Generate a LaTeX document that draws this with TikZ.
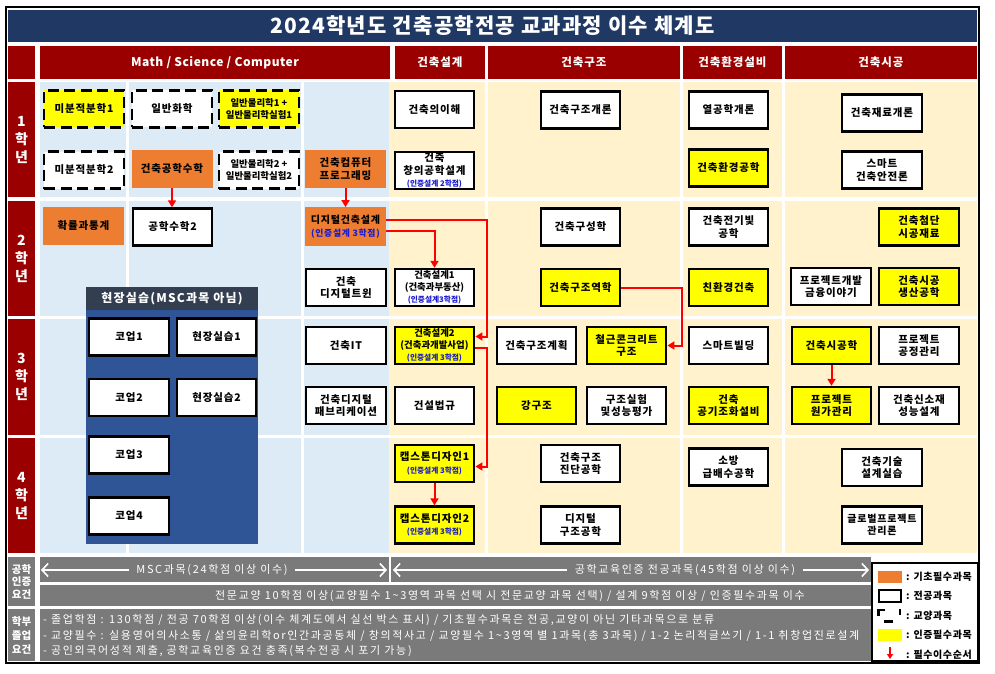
\documentclass[tikz,border=0pt]{standalone}
\usepackage{fontspec}
\setmainfont{Noto Sans CJK KR}
\newfontfamily\krbox{Noto Sans CJK KR}[LetterSpace=8]
\newfontfamily\krwide{Noto Sans CJK KR}[LetterSpace=15]
\newfontfamily\krmid{Noto Sans CJK KR}[LetterSpace=6]
\newfontfamily\krlat{Noto Sans CJK KR}[LetterSpace=4]
\newfontfamily\krpan{Noto Sans CJK KR}[LetterSpace=10]
\usetikzlibrary{arrows.meta,calc}
\definecolor{navy}{HTML}{203864}
\definecolor{dred}{HTML}{9A0000}
\definecolor{lblue}{HTML}{DDEBF7}
\definecolor{beige}{HTML}{FFF2CC}
\definecolor{orng}{HTML}{ED7D31}
\definecolor{panelblue}{HTML}{2F5597}
\definecolor{panelhead}{HTML}{333F50}
\definecolor{greyA}{HTML}{7A7A7A}
\definecolor{ylw}{HTML}{FFFF00}
\definecolor{reda}{HTML}{FF0000}
\definecolor{blu}{HTML}{1A1AD0}
\newcommand\fsz[2]{\fontsize{#1}{#2}\selectfont}
\newcommand\cnote[1]{{\krmain\fsz{7.7}{9}\color{blu}#1}}
\newcommand\krmain{\fontspec{Noto Sans CJK KR}}
\tikzset{
  box/.style={rectangle, minimum width=79.5pt, minimum height=37pt, inner sep=1pt,
    align=center, text=black, font=\krbox\bfseries\fsz{10.5}{12.5}},
  major/.style={box, draw=black, line width=2.4pt, fill=white},
  req/.style={major, fill=ylw},
  ge/.style={box, draw=black, line width=2.4pt, dash pattern=on 11pt off 5.5pt, fill=white},
  geq/.style={ge, fill=ylw},
  basic/.style={box, fill=orng, draw=none, minimum width=81pt, minimum height=38.5pt},
  smalltxt/.style={font=\bfseries\fsz{9.4}{12}},
  narrow/.style={font=\krbox\bfseries\fsz{10}{12.5}},
  flow/.style={draw=reda, line width=2pt, -{Triangle[length=7pt,width=8pt]}},
  warrow/.style={draw=white, line width=1.6pt, -{Straight Barb[length=6pt,width=13pt]}},
  hdr/.style={text=white, font=\krbox\bfseries\fsz{11.5}{13}},
  yr/.style={text=white, align=center, font=\bfseries\fsz{14}{18}},
  btxt/.style={text=white, font=\krwide\fsz{11}{13}, inner sep=0pt},
  legt/.style={anchor=west, text=black, font=\krmid\bfseries\fsz{10}{11}, inner sep=0pt},
}
\begin{document}
\begin{tikzpicture}[x=1pt,y=-1pt]
\useasboundingbox (0,0) rectangle (995,674);
\fill[white] (0,0) rectangle (995,674);
% title
\fill[navy] (8,10) rectangle (977,42);
\node[text=white, font=\krmid\bfseries\fsz{21}{24}] (title) at (492.5,26) {2024학년도 건축공학전공 교과과정 이수 체계도};
% header row
\fill[dred] (8,46) rectangle (35,79);
\fill[dred] (40,46) rectangle (390,79);
\fill[dred] (395,46) rectangle (485,79);
\fill[dred] (488,46) rectangle (680,79);
\fill[dred] (683,46) rectangle (782,79);
\fill[dred] (785,46) rectangle (977,79);
\node[hdr, font=\krlat\bfseries\fsz{12}{13}] (h1) at (215,62.5) {Math / Science / Computer};
\node[hdr] (h2) at (440,62.5) {건축설계};
\node[hdr] (h3) at (584,62.5) {건축구조};
\node[hdr] (h4) at (732.5,62.5) {건축환경설비};
\node[hdr] (h5) at (881,62.5) {건축시공};
% year rows
\foreach \a/\b in {82/197,201/316,319/435,438/553}{
  \fill[dred] (8,\a) rectangle (35,\b);
  \fill[lblue] (40,\a) rectangle (126,\b);
  \fill[lblue] (129,\a) rectangle (301,\b);
  \fill[lblue] (304,\a) rectangle (389,\b);
  \fill[beige] (389,\a) rectangle (485,\b);
  \fill[beige] (488,\a) rectangle (680,\b);
  \fill[beige] (683,\a) rectangle (782,\b);
  \fill[beige] (785,\a) rectangle (977,\b);
}
\node[yr] (y1) at (21.5,139.5) {1\\학\\년};
\node[yr] (y2) at (21.5,258.5) {2\\학\\년};
\node[yr] (y3) at (21.5,377) {3\\학\\년};
\node[yr] (y4) at (21.5,495.5) {4\\학\\년};
% field practice panel
\fill[panelblue] (86,287) rectangle (258,544);
\fill[panelhead] (86,287) rectangle (258,310);
\node[text=white, font=\krpan\bfseries\fsz{12}{13}] (paneltitle) at (172,298.5) {현장실습(MSC과목 아님)};
\node[major] (coop1) at (129,337) {코업1};
\node[major] (field1) at (216.5,337) {현장실습1};
\node[major] (coop2) at (129,397.5) {코업2};
\node[major] (field2) at (216.5,397.5) {현장실습2};
\node[major] (coop3) at (129,455) {코업3};
\node[major] (coop4) at (129,516) {코업4};
% row 1
\node[geq] (calc1) at (84,109) {미분적분학1};
\node[ge] (chem) at (172,109) {일반화학};
\node[geq, smalltxt] (phys1) at (259,109) {일반물리학1 +\\일반물리학실험1};
\node[ge] (calc2) at (84,170) {미분적분학2};
\node[basic] (engmath) at (172,169) {건축공학수학};
\node[ge, smalltxt] (phys2) at (259,170) {일반물리학2 +\\일반물리학실험2};
\node[basic] (comp) at (345.5,169) {건축컴퓨터\\프로그래밍};
\node[major] (archintro) at (434.5,109.5) {건축의이해};
\node[major] (creative) at (434.5,170.5) {건축\\창의공학설계\\\cnote{(인증설계 2학점)}};
\node[major] (structintro) at (580.5,110) {건축구조개론};
\node[major] (thermo) at (728.5,110) {열공학개론};
\node[req] (envEng) at (728.5,168) {건축환경공학};
\node[major] (material) at (882,113) {건축재료개론};
\node[major] (safety) at (882,170) {스마트\\건축안전론};
% row 2
\node[basic] (prob) at (83.5,226) {확률과통계};
\node[major] (engmath2) at (172.5,227) {공학수학2};
\node[basic, narrow] (digdesign) at (345.5,226.5) {디지털건축설계\\{\fsz{8.8}{9}\color{blu}(인증설계 3학점)}};
\node[major] (twin) at (346,287.5) {건축\\디지털트윈};
\node[major, smalltxt] (design1) at (434.5,287.5) {건축설계1\\(건축과부동산)\\\cnote{(인증설계3학점)}};
\node[major] (composition) at (580.5,227) {건축구성학};
\node[req] (mechanics) at (580.5,287.5) {건축구조역학};
\node[major] (elec) at (728.5,227) {건축전기빛\\공학};
\node[req] (eco) at (728.5,287.5) {친환경건축};
\node[req] (advmat) at (919,227) {건축첨단\\시공재료};
\node[major] (finance) at (831,286.5) {프로젝트개발\\금융이야기};
\node[req] (production) at (919,286.5) {건축시공\\생산공학};
% row 3
\node[major] (it) at (346,345.5) {건축IT};
\node[req, smalltxt] (design2) at (434.5,345.5) {건축설계2\\(건축과개발사업)\\\cnote{(인증설계 3학점)}};
\node[major] (fab) at (346,405.5) {건축디지털\\패브리케이션};
\node[major] (law) at (434.5,405.5) {건설법규};
\node[major] (structplan) at (536.5,345.5) {건축구조계획};
\node[req] (rc) at (626.5,345.5) {철근콘크리트\\구조};
\node[req] (steel) at (536.5,405.5) {강구조};
\node[major] (experiment) at (626.5,405.5) {구조실험\\및성능평가};
\node[major] (smart) at (728.5,345.5) {스마트빌딩};
\node[req] (hvac) at (728.5,405.5) {건축\\공기조화설비};
\node[req] (construction) at (831.5,345.5) {건축시공학};
\node[major] (schedule) at (919,345.5) {프로젝트\\공정관리};
\node[req] (cost) at (831.5,405.5) {프로젝트\\원가관리};
\node[major] (newmat) at (919,405.5) {건축신소재\\성능설계};
% row 4
\node[req] (cap1) at (434.5,463.5) {캡스톤디자인1\\\cnote{(인증설계 3학점)}};
\node[req] (cap2) at (434.5,525) {캡스톤디자인2\\\cnote{(인증설계 3학점)}};
\node[major] (diagnosis) at (580.5,463.5) {건축구조\\진단공학};
\node[major] (digstruct) at (580.5,525) {디지털\\구조공학};
\node[major] (fire) at (728.5,467) {소방\\급배수공학};
\node[major] (techdesign) at (882,467.5) {건축기술\\설계실습};
\node[major, narrow] (global) at (882,525) {글로벌프로젝트\\관리론};
% required sequence arrows
\draw[flow] (engmath.south) -- (engmath.south |- engmath2.north);
\draw[flow] (comp.south) -- (comp.south |- digdesign.north);
\draw[flow] ($(digdesign.east)+(0,-7)$) -| ($(design2.east)+(12,-9)$) -- ($(design2.east)+(0,-9)$);
\draw[flow] ($(digdesign.east)+(0,4)$) -| (design1.north);
\draw[flow] ($(design2.east)+(0,2)$) -- ++(12,0) |- ($(cap1.east)+(0,3)$);
\draw[flow] (cap1.south) -- (cap2.north);
\draw[flow] (mechanics.east) -| ($(rc.east)+(14.5,0)$) -- (rc.east);
\draw[flow] (construction.south) -- (cost.north);
% bottom section
\fill[greyA] (8,557) rectangle (35,606);
\fill[greyA] (8,609) rectangle (35,661);
\fill[greyA] (40,557) rectangle (389,582);
\fill[greyA] (391,557) rectangle (871,582);
\fill[greyA] (40,585) rectangle (871,606);
\fill[greyA] (40,609) rectangle (871,661);
\node[text=white, align=center, font=\bfseries\fsz{10.5}{12.5}] (lab1) at (21.5,581.5) {공학\\인증\\요건};
\node[text=white, align=center, font=\bfseries\fsz{10.5}{14}] (lab2) at (21.5,635) {학부\\졸업\\요건};
\node[btxt, inner xsep=7pt] (msc) at (212,570) {MSC과목(24학점 이상 이수)};
\coordinate (mscL) at (41,570);
\coordinate (mscR) at (387,570);
\draw[warrow] (msc.west) -- (mscL);
\draw[warrow] (msc.east) -- (mscR);
\node[btxt, inner xsep=8pt] (majorreq) at (685,570) {공학교육인증 전공과목(45학점 이상 이수)};
\coordinate (majL) at (393,570);
\coordinate (majR) at (869,570);
\draw[warrow] (majorreq.west) -- (majL);
\draw[warrow] (majorreq.east) -- (majR);
\node[btxt] (gen) at (510,596) {전문교양 10학점 이상(교양필수 1\textasciitilde3영역 과목 선택 시 전문교양 과목 선택) / 설계 9학점 이상 / 인증필수과목 이수};
\node[btxt, anchor=west] (grad1) at (43,620) {- 졸업학점 : 130학점 / 전공 70학점 이상(이수 체계도에서 실선 박스 표시) / 기초필수과목은 전공,교양이 아닌 기타과목으로 분류};
\node[btxt, anchor=west] (grad2) at (43,636) {- 교양필수 : 실용영어의사소통 / 삶의윤리학or인간과공동체 / 창의적사고 / 교양필수 1\textasciitilde3영역 별 1과목(총 3과목) / 1-2 논리적글쓰기 / 1-1 취창업진로설계};
\node[btxt, anchor=west] (grad3) at (43,651) {- 공인외국어성적 제출, 공학교육인증 요건 충족(복수전공 시 포기 가능)};
% legend
\draw[line width=2pt, fill=white] (872,563) rectangle (978,661);
\fill[orng] (878,571) rectangle (902,583);
\node[legt] (lg1) at (906,577) {: 기초필수과목};
\draw[line width=2pt, fill=white] (879,590) rectangle (901,602);
\node[legt] (lg2) at (906,596) {: 전공과목};
\draw[line width=2.5pt] (878.5,616) -- (878.5,610) -- (885,610);
\draw[line width=2.5pt] (884,621.5) -- (893,621.5);
\draw[line width=2.5pt] (900,608.5) -- (900,615);
\node[legt] (lg3) at (906,616) {: 교양과목};
\fill[ylw] (878,629) rectangle (902,641);
\node[legt] (lg4) at (906,635) {: 인증필수과목};
\coordinate (lgA) at (890,647);
\coordinate (lgB) at (890,659);
\draw[draw=reda, line width=1.6pt, -{Triangle[length=5pt,width=6pt]}] (lgA) -- (lgB);
\node[legt] (lg5) at (906,655) {: 필수이수순서};
% outer frame
\draw[line width=2pt] (6,7) rectangle (979,663);
\end{tikzpicture}
\end{document}
